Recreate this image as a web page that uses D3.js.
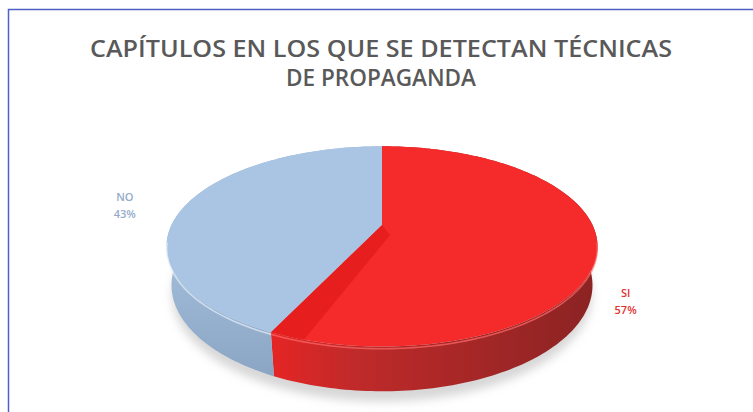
<!DOCTYPE html>
<html>
<head>
<meta charset="utf-8">
<script src="https://cdn.jsdelivr.net/npm/d3@7"></script>
<style>
  html, body { margin: 0; padding: 0; background: #fff; }
  svg { display: block; }
</style>
</head>
<body>
<div id="chart"></div>
<script>
// data
const categories = ["SI", "NO"];
const values = [57, 43];
const pctLabels = ["57%", "43%"];
const titleLines = ["CAPÍTULOS EN LOS QUE SE DETECTAN TÉCNICAS", "DE PROPAGANDA"];

const width = 753, height = 412;

const svg = d3.select("#chart").append("svg")
  .attr("width", width)
  .attr("height", height);

const defs = svg.append("defs");

// frame (runs off the right and bottom edge like in the original)
svg.append("rect")
  .attr("x", 8.5).attr("y", 9.5)
  .attr("width", 900).attr("height", 600)
  .attr("fill", "none")
  .attr("stroke", "#4f60c4")
  .attr("stroke-width", 1.5);

// title
const titleWidths = [582, 190];
svg.selectAll(".title")
  .data(titleLines)
  .enter().append("text")
  .attr("class", "title")
  .attr("x", 381)
  .attr("y", (d, i) => 57 + i * 29)
  .attr("text-anchor", "middle")
  .attr("textLength", (d, i) => titleWidths[i])
  .attr("lengthAdjust", "spacingAndGlyphs")
  .style("font-family", "'Open Sans', sans-serif")
  .style("font-weight", 600)
  .style("font-size", "23px")
  .style("fill", "#595959")
  .text(d => d);

////////////// 3D PIE //////////////
const cx = 382, cy = 225;      // projected centre of top face
const K = 210.5;                // radius scale
const tilt = 27 * Math.PI / 180;
const camDist = 4.17;
const thick = 0.2075;

// perspective projection of a point on the unit disk
function proj(x, y, z) {
  const c = Math.cos(tilt), s = Math.sin(tilt);
  const d = z * c + y * s;
  const u = y * c - z * s;
  const k = camDist / (camDist - d);
  return [cx + K * x * k, cy - K * u * k];
}
const rimPt = (a, y, r = 1) => proj(r * Math.sin(a), y, -r * Math.cos(a));

function arcPts(a0, a1, y, r = 1) {
  const n = Math.max(2, Math.ceil(Math.abs(a1 - a0) / 0.02));
  return d3.range(n + 1).map(i => rimPt(a0 + (a1 - a0) * i / n, y, r));
}

const line = d3.line();

const pie = d3.pie().sort(null).value(d => d.value);
const slices = pie(categories.map((c, i) => ({ name: c, value: values[i], pct: pctLabels[i] })));

const topColor = d3.scaleOrdinal().domain(categories).range(["#f52a2a", "#a9c5e3"]);

// gradients for the sides
const gRed = defs.append("linearGradient").attr("id", "sideRed")
  .attr("gradientUnits", "userSpaceOnUse")
  .attr("x1", 275).attr("y1", 0).attr("x2", 600).attr("y2", 0);
gRed.append("stop").attr("offset", 0).attr("stop-color", "#e42525");
gRed.append("stop").attr("offset", 0.25).attr("stop-color", "#bf2a2a");
gRed.append("stop").attr("offset", 1).attr("stop-color", "#8a2323");

const gBlue = defs.append("linearGradient").attr("id", "sideBlue")
  .attr("gradientUnits", "userSpaceOnUse")
  .attr("x1", 0).attr("y1", 250).attr("x2", 0).attr("y2", 380);
gBlue.append("stop").attr("offset", 0).attr("stop-color", "#a3bedb");
gBlue.append("stop").attr("offset", 1).attr("stop-color", "#8aa4c3");

const sideFill = { SI: "url(#sideRed)", NO: "url(#sideBlue)" };

// soft shadow under the pie
const blur = defs.append("filter").attr("id", "shadowBlur")
  .attr("x", "-20%").attr("y", "-20%").attr("width", "140%").attr("height", "140%");
blur.append("feGaussianBlur").attr("stdDeviation", 5);

const shadowPts = arcPts(0, 2 * Math.PI, -thick - 0.03, 1.0);
svg.append("path")
  .attr("d", line(shadowPts.map(p => [p[0], p[1] + 4])) + "Z")
  .attr("fill", "#bcbcbc")
  .attr("opacity", 0.6)
  .attr("filter", "url(#shadowBlur)");

const g = svg.append("g");

// sides
g.selectAll(".side")
  .data(slices)
  .enter().append("path")
  .attr("class", "side")
  .attr("d", d => line(arcPts(d.startAngle, d.endAngle, 0).concat(arcPts(d.endAngle, d.startAngle, -thick))) + "Z")
  .attr("fill", d => sideFill[d.data.name]);

// top faces
g.selectAll(".top")
  .data(slices)
  .enter().append("path")
  .attr("class", "top")
  .attr("d", d => line([proj(0, 0, 0)].concat(arcPts(d.startAngle, d.endAngle, 0))) + "Z")
  .attr("fill", d => topColor(d.data.name));

// darker bevel along the red edge facing the viewer
const red = slices[0];
const bevel = [
  proj(0, 0, 0),
  rimPt(red.endAngle, 0),
  ...arcPts(red.endAngle, red.endAngle - 0.14, 0),
  rimPt(red.endAngle - 0.79, 0, 0.11)
];
g.append("path")
  .attr("d", line(bevel) + "Z")
  .attr("fill", "#e31b1b")
  .attr("opacity", 0.8);

// light rim highlight on the near edge
const rimLight = { SI: "#ff6a6a", NO: "#e6f0fa" };
g.selectAll(".rim")
  .data(slices)
  .enter().append("path")
  .attr("class", "rim")
  .attr("d", d => {
    const a0 = Math.max(d.startAngle, Math.PI * 0.55);
    const a1 = Math.min(d.endAngle, Math.PI * 1.45);
    return line(arcPts(a0, a1, -0.01));
  })
  .attr("fill", "none")
  .attr("stroke", d => rimLight[d.data.name])
  .attr("stroke-width", 1.6)
  .attr("opacity", 0.7);

// data labels
const labelNudge = { SI: [-6, 51], NO: [-33, 3] };
const labelColor = { SI: "#e23232", NO: "#93abca" };
const labels = g.selectAll(".lbl")
  .data(slices)
  .enter().append("text")
  .attr("class", "lbl")
  .attr("text-anchor", "middle")
  .style("font-family", "'Open Sans', sans-serif")
  .style("font-weight", 600)
  .style("font-size", "11px")
  .style("fill", d => labelColor[d.data.name])
  .each(function (d) {
    const mid = (d.startAngle + d.endAngle) / 2;
    const p = rimPt(mid, 0, 1.15);
    const n = labelNudge[d.data.name];
    const x = p[0] + n[0], y = p[1] + n[1];
    const t = d3.select(this);
    t.append("tspan").attr("x", x).attr("y", y - 4).text(d.data.name);
    t.append("tspan").attr("x", x).attr("y", y + 13).text(d.data.pct);
  });
</script>
</body>
</html>
